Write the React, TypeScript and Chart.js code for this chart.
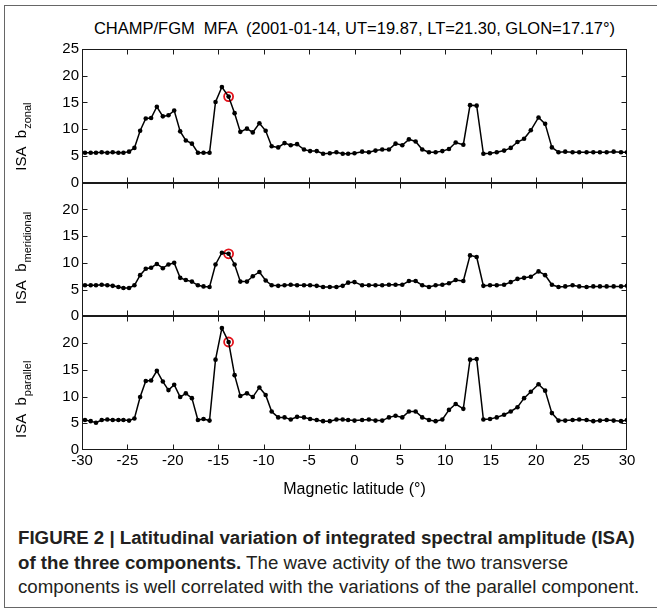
import React, { useEffect, useRef } from 'react';
import { Chart, registerables } from 'chart.js';

Chart.register(...registerables);

// Magnetic latitude of each sample (degrees)
const latitudes = [
  -29.67, -29.04, -28.46, -27.83, -27.21, -26.62, -25.99, -25.44, -24.82, -24.23,
  -23.6, -22.98, -22.39, -21.76, -21.1, -20.48, -19.85, -19.19, -18.57, -17.9,
  -17.24, -16.62, -15.96, -15.3, -14.6, -13.86, -13.2, -12.57, -11.84, -11.2,
  -10.47, -9.78, -9.12, -8.4, -7.7, -7.02, -6.32, -5.56, -4.89, -4.16,
  -3.46, -2.72, -1.99, -1.3, -0.7,
  0.0, 0.84, 1.58, 2.31, 3.05, 3.79, 4.52, 5.26, 5.99, 6.73,
  7.46, 8.2, 8.93, 9.67, 10.4, 11.14, 11.98, 12.72, 13.45, 14.19,
  14.92, 15.66, 16.47, 17.2, 17.94, 18.67, 19.41, 20.26, 20.99, 21.73,
  22.46, 23.2, 24.01, 24.74, 25.55, 26.29, 27.02, 27.76, 28.53, 29.34, 30.0,
];

const zonal = [
  5.6, 5.6, 5.6, 5.7, 5.6, 5.7, 5.6, 5.6, 5.8, 6.5,
  9.7, 12.0, 12.1, 14.2, 12.4, 12.6, 13.5, 9.6, 7.9, 7.3,
  5.6, 5.6, 5.6, 15.1, 17.9, 16.1, 13.0, 9.5, 10.1, 9.4,
  11.1, 9.7, 6.8, 6.6, 7.4, 7.0, 7.2, 6.2, 5.9, 5.9,
  5.4, 5.5, 5.7, 5.4, 5.4,
  5.5, 5.8, 5.7, 6.0, 6.2, 6.2, 7.3, 7.0, 8.1, 7.7,
  6.2, 5.7, 5.7, 5.9, 6.3, 7.5, 7.1, 14.5, 14.4, 5.4,
  5.5, 5.7, 6.0, 6.5, 7.6, 8.2, 9.8, 12.2, 11.0, 6.6,
  5.7, 5.8, 5.7, 5.7, 5.7, 5.7, 5.7, 5.7, 5.8, 5.7, 5.7,
];

const meridional = [
  5.8, 5.8, 5.8, 5.9, 5.8, 5.7, 5.5, 5.3, 5.3, 5.8,
  7.7, 8.9, 9.1, 9.8, 9.0, 9.7, 10.0, 7.2, 6.8, 6.5,
  5.8, 5.6, 5.5, 9.7, 11.9, 11.7, 9.7, 6.5, 6.5, 7.5,
  8.3, 6.7, 5.8, 5.7, 5.8, 5.9, 5.8, 5.8, 5.8, 5.7,
  5.5, 5.5, 5.5, 5.7, 6.3,
  6.4, 5.8, 5.8, 5.8, 5.8, 5.9, 5.9, 5.9, 6.6, 6.6,
  5.8, 5.5, 5.8, 5.9, 6.2, 6.8, 6.6, 11.4, 11.1, 5.7,
  5.8, 5.8, 5.9, 6.4, 7.0, 7.2, 7.4, 8.4, 7.7, 5.9,
  5.5, 5.6, 5.8, 5.6, 5.5, 5.6, 5.6, 5.6, 5.6, 5.6, 5.7,
];

const parallel = [
  5.6, 5.4, 5.1, 5.6, 5.7, 5.6, 5.6, 5.6, 5.5, 5.9,
  9.9, 12.9, 13.0, 14.8, 12.8, 11.2, 12.2, 9.9, 10.6, 9.7,
  5.6, 5.8, 5.5, 16.9, 22.8, 20.2, 14.0, 10.1, 10.6, 9.9,
  11.7, 10.3, 7.2, 6.1, 6.1, 5.7, 6.2, 6.1, 5.8, 5.6,
  5.4, 5.4, 5.7, 5.7, 5.6,
  5.5, 5.6, 5.7, 5.5, 5.5, 6.1, 6.4, 6.1, 7.2, 7.2,
  6.1, 5.6, 5.4, 5.7, 7.5, 8.6, 7.7, 16.9, 17.0, 5.7,
  5.8, 6.1, 6.6, 7.2, 8.0, 9.7, 10.9, 12.3, 11.1, 6.9,
  5.5, 5.5, 5.6, 5.7, 5.6, 5.4, 5.5, 5.6, 5.5, 5.4, 5.6,
];

// sample marked with a red circle
const HIGHLIGHT_INDEX = 25;

const panelIds = ['yZonal', 'yMeridional', 'yParallel'];
const panelSubscripts = ['zonal', 'meridional', 'parallel'];
const panelSeries = [zonal, meridional, parallel];

const titleText = 'CHAMP/FGM  MFA  (2001-01-14, UT=19.87, LT=21.30, GLON=17.17°)';
const xTitle = 'Magnetic latitude (°)';

const FONT = "'Liberation Sans', Arial, Helvetica, sans-serif";
const TICK = 5;

const framePlugin = {
  id: 'frames',
  beforeDatasetsDraw(chart: any) {
    const { ctx, chartArea, scales } = chart;
    const xs = scales.x;
    const left = Math.round(chartArea.left) + 0.5;
    const right = Math.round(chartArea.right) - 0.5;
    ctx.save();
    ctx.strokeStyle = '#1a1a1a';
    ctx.lineWidth = 1;
    for (const id of panelIds) {
      const ys = scales[id];
      const top = Math.round(ys.top) + 0.5;
      const bottom = Math.round(ys.bottom) - 0.5;
      ctx.strokeRect(left, top, right - left, bottom - top);
      ctx.beginPath();
      for (const t of xs.ticks) {
        if (t.value <= xs.min || t.value >= xs.max) continue;
        const px = Math.round(xs.getPixelForValue(t.value)) + 0.5;
        ctx.moveTo(px, top);
        ctx.lineTo(px, top + TICK);
        ctx.moveTo(px, bottom);
        ctx.lineTo(px, bottom - TICK);
      }
      for (const t of ys.ticks) {
        if (t.value <= ys.min || t.value >= ys.max) continue;
        const py = Math.round(ys.getPixelForValue(t.value)) + 0.5;
        ctx.moveTo(left, py);
        ctx.lineTo(left + TICK, py);
        ctx.moveTo(right, py);
        ctx.lineTo(right - TICK, py);
      }
      ctx.stroke();
    }
    ctx.restore();
  },
};

const yTitlePlugin = {
  id: 'yTitles',
  afterDraw(chart: any) {
    const { ctx, scales } = chart;
    ctx.save();
    ctx.fillStyle = '#000';
    panelIds.forEach((id, i) => {
      const ys = scales[id];
      const main = 'ISA  b';
      const sub = panelSubscripts[i];
      ctx.save();
      ctx.translate(22, ys.bottom - 12);
      ctx.rotate(-Math.PI / 2);
      ctx.textAlign = 'left';
      ctx.textBaseline = 'middle';
      ctx.font = `15px ${FONT}`;
      const w1 = ctx.measureText(main).width;
      ctx.fillText(main, 0, 0);
      ctx.font = `11px ${FONT}`;
      ctx.fillText(sub, w1 + 1, 6);
      ctx.restore();
    });
    ctx.restore();
  },
};

export default function App() {
  const canvasRef = useRef<HTMLCanvasElement>(null);

  useEffect(() => {
    if (!canvasRef.current) return;
    Chart.defaults.font.family = FONT;
    Chart.defaults.color = '#000';

    const datasets: any[] = [];
    panelIds.forEach((id, i) => {
      const series = panelSeries[i];
      datasets.push({
        label: panelSubscripts[i],
        yAxisID: id,
        data: latitudes.map((x, k) => ({ x, y: series[k] })),
        borderColor: '#000',
        borderWidth: 1.5,
        pointRadius: 2.3,
        pointBackgroundColor: '#000',
        pointBorderColor: '#000',
        pointBorderWidth: 0,
        tension: 0,
      });
      datasets.push({
        label: panelSubscripts[i] + ' marker',
        yAxisID: id,
        data: [{ x: latitudes[HIGHLIGHT_INDEX], y: series[HIGHLIGHT_INDEX] }],
        showLine: false,
        pointRadius: 4.5,
        pointBorderWidth: 1.8,
        pointBorderColor: '#e3121b',
        pointBackgroundColor: 'rgba(0,0,0,0)',
      });
    });

    const yAxis = (weight: number, showTop: boolean) => ({
      type: 'linear',
      position: 'left',
      stack: 'panels',
      stackWeight: 1,
      weight,
      min: 0,
      max: 25,
      grid: { display: false, drawTicks: false },
      border: { display: false },
      ticks: {
        stepSize: 5,
        autoSkip: false,
        padding: 3,
        font: { size: 15 },
        color: '#000',
        callback: (v: any) => (!showTop && v === 25 ? '' : String(v)),
      },
      afterFit: (s: any) => {
        s.width = 82;
      },
    });

    const chart = new Chart(canvasRef.current, {
      type: 'line',
      data: { datasets },
      options: {
        animation: false,
        responsive: false,
        layout: { padding: { top: 49, left: 0, right: 30, bottom: 1 } },
        plugins: {
          legend: { display: false },
          tooltip: { enabled: false },
          title: { display: false },
        },
        scales: {
          x: {
            type: 'linear',
            position: 'bottom',
            min: -30,
            max: 30,
            grid: { display: false, drawTicks: false },
            border: { display: false },
            ticks: { stepSize: 5, autoSkip: false, padding: 2, font: { size: 15 }, color: '#000', maxRotation: 0 },
            title: { display: true, text: xTitle, font: { size: 16 }, color: '#000', padding: { top: 0, bottom: 0 } },
            afterFit: (s: any) => {
              s.height = 49;
            },
          },
          yParallel: yAxis(1, false),
          yMeridional: yAxis(2, false),
          yZonal: yAxis(3, true),
        } as any,
      },
      plugins: [framePlugin, yTitlePlugin],
    } as any);

    return () => chart.destroy();
  }, []);

  return (
    <div
      style={{
        position: 'absolute',
        left: 0,
        top: 0,
        width: 657,
        height: 614,
        background: '#fff',
        overflow: 'hidden',
      }}
    >
      <div
        style={{
          position: 'absolute',
          left: 4,
          top: 5,
          width: 670,
          height: 603,
          border: '1px solid #666',
          boxSizing: 'border-box',
        }}
      />
      <div
        style={{
          position: 'absolute',
          left: 82,
          top: 18,
          width: 545,
          textAlign: 'center',
          font: `16.5px ${FONT}`,
          lineHeight: '20px',
          color: '#000',
          whiteSpace: 'pre',
        }}
      >
        {titleText}
      </div>
      <canvas
        ref={canvasRef}
        width={657}
        height={500}
        style={{ position: 'absolute', left: 0, top: 0, width: 657, height: 500 }}
      />
      <div
        style={{
          position: 'absolute',
          left: 18,
          top: 526,
          width: 636,
          font: `18.7px ${FONT}`,
          lineHeight: '24.5px',
          color: '#231f20',
        }}
      >
        <div style={{ fontWeight: 700, whiteSpace: 'nowrap' }}>
          FIGURE 2 | Latitudinal variation of integrated spectral amplitude (ISA)
        </div>
        <div style={{ whiteSpace: 'nowrap' }}>
          <span style={{ fontWeight: 700 }}>of the three components.</span> The wave activity of the two transverse
        </div>
        <div style={{ whiteSpace: 'nowrap' }}>
          components is well correlated with the variations of the parallel component.
        </div>
      </div>
    </div>
  );
}
